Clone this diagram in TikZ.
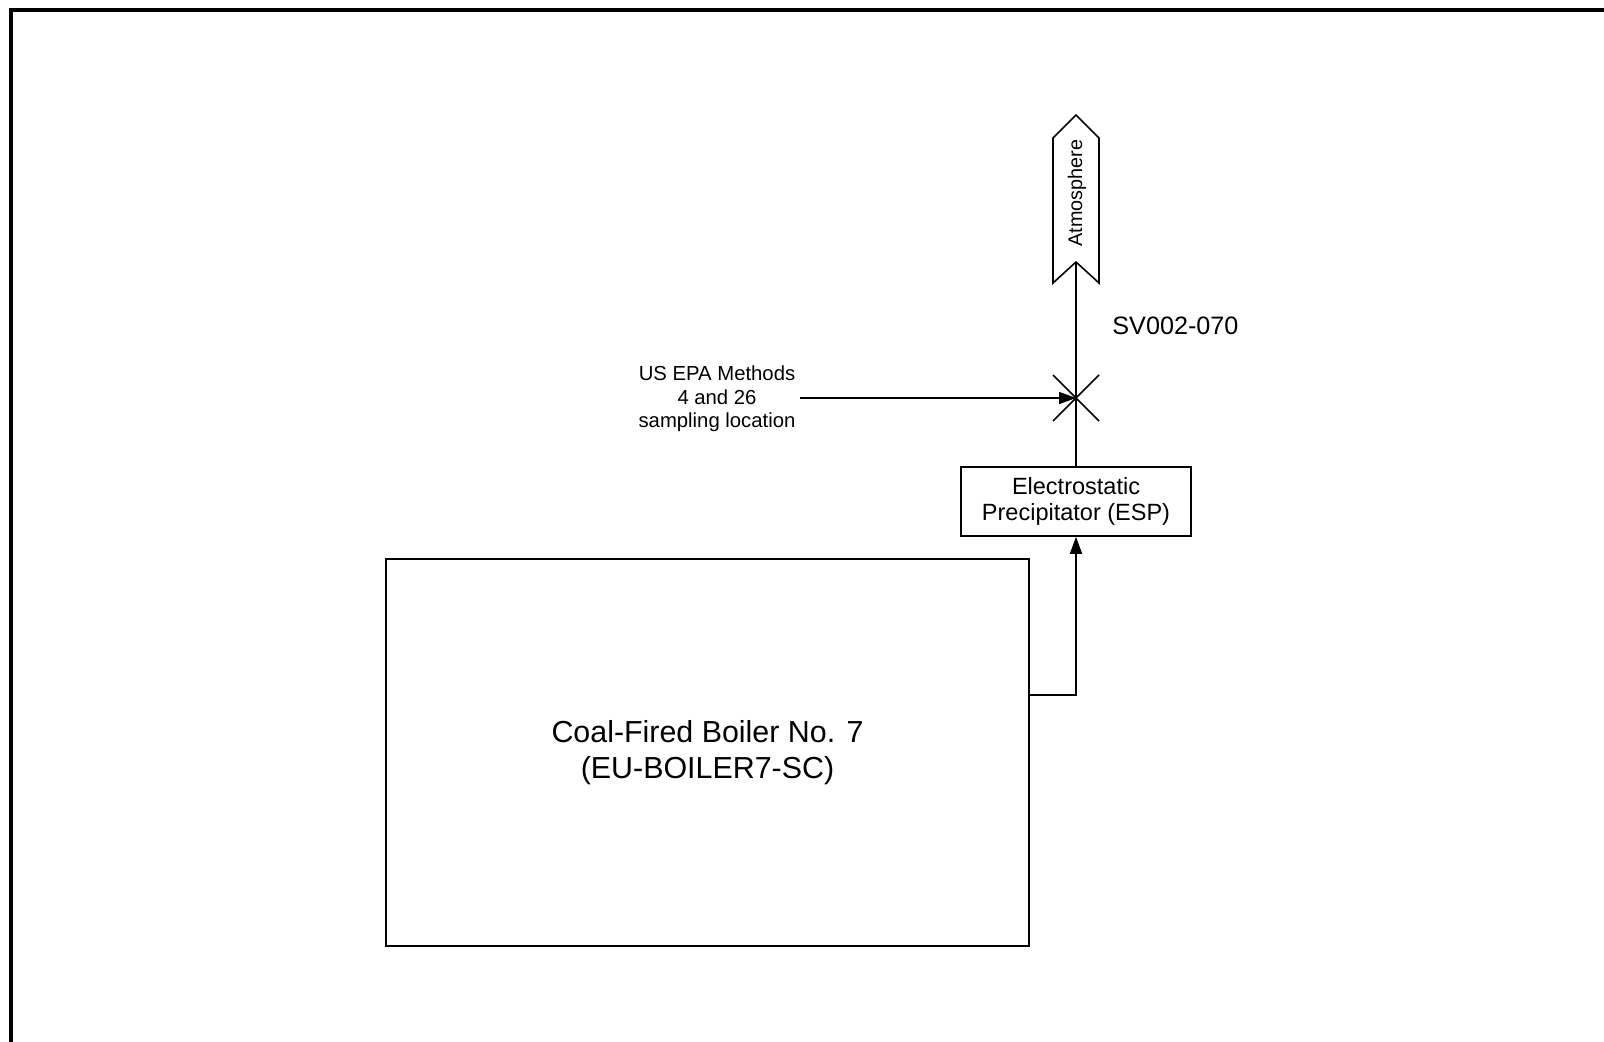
\documentclass[tikz,border=0pt]{standalone}
\usepackage{fontspec}
\setmainfont{Liberation Sans}
\usetikzlibrary{arrows.meta}
\begin{document}
\begin{tikzpicture}[x=0.5pt,y=-0.5pt,
  line/.style={line width=0.8pt,black},
  flow/.style={line,-{Triangle[length=8.5pt,width=6pt]}},
  boxnode/.style={draw,line width=0.8pt,inner sep=0pt,align=center},
  lbl/.style={inner sep=2pt,align=center}]
\useasboundingbox (0,0) rectangle (1604,1042);
% frame (left and top edges only)
\draw[line width=1.6pt] (11,1042) -- (11,10) -- (1604,10);
% nodes
\node[boxnode,minimum width=321.5pt,minimum height=193.5pt,
  font=\fontsize{15.2}{18}\selectfont] (boiler) at (707.5,752.5)
  {Coal-Fired Boiler No. 7\\(EU-BOILER7-SC)};
\node[boxnode,minimum width=115pt,minimum height=34.5pt,
  font=\fontsize{11.75}{12.8}\selectfont] (esp) at (1076,501.5)
  {Electrostatic\\Precipitator (ESP)};
\node[lbl,font=\fontsize{10.15}{11.75}\selectfont] (epa) at (717,399)
  {US EPA Methods\\4 and 26\\sampling location};
\node[lbl,font=\fontsize{12.6}{14}\selectfont,anchor=west] (sv) at (1108,326) {SV002-070};
\coordinate (sp) at (1076,398);
\coordinate (bo) at (1029,695);
\coordinate (atm) at (1076,262);
% atmosphere exit arrow
\draw[line] (1053,138) -- (1076,115) -- (1099,138) -- (1099,283) -- (atm) -- (1053,283) -- cycle;
\node[rotate=90,inner sep=0pt,font=\fontsize{9.9}{11}\selectfont] (atmtext) at (1077,193) {Atmosphere};
% connectors
\draw[flow] (bo) -| (esp.south);
\draw[line] (esp.north) -- (atm);
\draw[flow] (epa.east |- sp) -- (sp);
% sampling location cross
\draw[line] ([shift={(-23,-23)}]sp) -- ([shift={(23,23)}]sp);
\draw[line] ([shift={(-23,23)}]sp) -- ([shift={(23,-23)}]sp);
\end{tikzpicture}
\end{document}
